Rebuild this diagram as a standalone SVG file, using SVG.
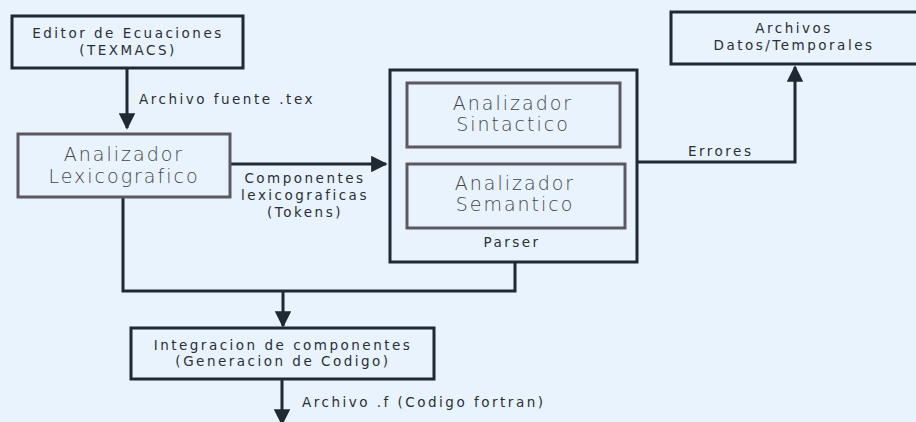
<svg xmlns="http://www.w3.org/2000/svg" width="916" height="422" viewBox="0 0 916 422">
<style>
.bg{fill:#e8f3fd}
.box{fill:#e8f3fd;stroke:#1f2933;stroke-width:3}
.gbox{fill:#e8f3fd;stroke:#5d5860;stroke-width:3}
.ln{fill:none;stroke:#1f2933;stroke-width:3}
.t{font-family:"DejaVu Sans",sans-serif;font-size:13.5px;fill:#2a2f36;letter-spacing:2.5px;text-anchor:middle}
.tl{font-family:"DejaVu Sans",sans-serif;font-size:13.5px;fill:#2a2f36;letter-spacing:2.5px}
.big{font-family:"DejaVu Sans",sans-serif;font-size:19px;fill:#444448;letter-spacing:2px;text-anchor:middle;font-weight:300}
</style>
<defs>
<marker id="ah" viewBox="0 0 10 10" refX="9" refY="5" markerWidth="5.5" markerHeight="5.5" markerUnits="strokeWidth" orient="auto">
<path d="M0,0 L10,5 L0,10 z" fill="#1f2933"/>
</marker>
</defs>
<rect class="bg" x="0" y="0" width="916" height="422"/>
<g id="connectors">
<path class="ln" d="M127,68 V128" marker-end="url(#ah)"/>
<path class="ln" d="M230,164 H386" marker-end="url(#ah)"/>
<path class="ln" d="M637,162 H795 V67" marker-end="url(#ah)"/>
<path class="ln" d="M123,197 V291 H515 V262"/>
<path class="ln" d="M283,291 V326" marker-end="url(#ah)"/>
<path class="ln" d="M282,379 V424" marker-end="url(#ah)"/>
<text class="tl" x="139" y="104">Archivo fuente .tex</text>
<text class="t" x="305" y="183">Componentes</text>
<text class="t" x="305" y="200">lexicograficas</text>
<text class="t" x="305" y="217">(Tokens)</text>
<text class="tl" x="688" y="156">Errores</text>
<text class="tl" x="302" y="407">Archivo .f (Codigo fortran)</text>
</g>
<g id="editor">
<rect class="box" x="12" y="16" width="231" height="52"/>
<text class="t" x="128" y="38">Editor de Ecuaciones</text>
<text class="t" x="128" y="55">(TEXMACS)</text>
</g>
<g id="lexico">
<rect class="gbox" x="18" y="134" width="212" height="63"/>
<text class="big" x="124" y="161">Analizador</text>
<text class="big" x="124" y="183">Lexicografico</text>
</g>
<g id="parser">
<rect class="box" x="390" y="70" width="247" height="192"/>
<text class="t" x="512" y="247">Parser</text>
</g>
<g id="sintactico">
<rect class="gbox" x="407" y="83" width="213" height="64"/>
<text class="big" x="513" y="110">Analizador</text>
<text class="big" x="513" y="131">Sintactico</text>
</g>
<g id="semantico">
<rect class="gbox" x="407" y="164" width="218" height="64"/>
<text class="big" x="515" y="190">Analizador</text>
<text class="big" x="515" y="211">Semantico</text>
</g>
<g id="archivos">
<rect class="box" x="671" y="12" width="260" height="52"/>
<text class="t" x="794" y="33">Archivos</text>
<text class="t" x="794" y="50">Datos/Temporales</text>
</g>
<g id="integracion">
<rect class="box" x="131" y="328" width="303" height="51"/>
<text class="t" x="283" y="350">Integracion de componentes</text>
<text class="t" x="283" y="366">(Generacion de Codigo)</text>
</g>
</svg>
